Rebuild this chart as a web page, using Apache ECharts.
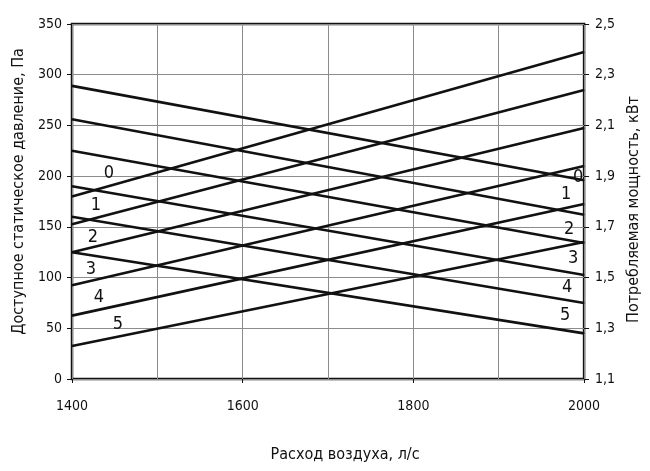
<!DOCTYPE html>
<html>
<head>
<meta charset="utf-8">
<script src="https://cdn.jsdelivr.net/npm/echarts@6/dist/echarts.min.js"></script>
<style>
  html, body { margin: 0; padding: 0; background: #fff; }
  #chart { width: 650px; height: 471px; }
</style>
</head>
<body>
<div id="chart"></div>
<script>
// Air flow, l/s (curve end points)
const flow = [1400, 2000];
const curveNames = ['0', '1', '2', '3', '4', '5'];

// Available static pressure, Pa, at 1400 and 2000 l/s
const pressureAt1400 = [289, 256, 225, 190, 160, 125];
const pressureAt2000 = [196, 162, 134, 102.5, 75, 45];

// Absorbed power, kW, at 1400 and 2000 l/s
const powerAt1400 = [1.82, 1.71, 1.60, 1.47, 1.35, 1.23];
const powerAt2000 = [2.39, 2.24, 2.09, 1.94, 1.79, 1.64];

// Axis scales
const flowAxis = { min: 1400, max: 2000, step: 200 };
const pressureAxis = { min: 0, max: 350, step: 50 };
const powerAxis = { min: 1.1, max: 2.5, step: 0.2 };

// Curve-number label placement (pixel offsets from the curve end they belong to)
const pressureLabelOffsets = [[-6, -3], [-18, -20], [-15, -14], [-11, -17], [-17, -16], [-19, -18]];
const powerLabelOffsets = [[37, -23], [24, -19], [21, -15], [19, -16], [27, -18], [46, -22]];

const FONT = "'Liberation Sans Narrow', 'DejaVu Sans Condensed', 'Arial Narrow', sans-serif";
const INK = '#111';
const GRID = '#8c8c8c';

function curveLabel(text, offset) {
  return {
    show: true,
    formatter: text,
    position: 'inside',
    offset: offset,
    fontFamily: FONT,
    fontSize: 18,
    color: INK
  };
}

const lineStyle = { color: INK, width: 2.6 };
const series = [];

curveNames.forEach((name, i) => {
  series.push({
    name: 'p' + name,
    type: 'line',
    yAxisIndex: 0,
    symbol: 'circle',
    symbolSize: 1,
    itemStyle: { color: INK },
    lineStyle: lineStyle,
    silent: true,
    data: [
      [flow[0], pressureAt1400[i]],
      { value: [flow[1], pressureAt2000[i]], label: curveLabel(name, pressureLabelOffsets[i]) }
    ]
  });
  series.push({
    name: 'n' + name,
    type: 'line',
    yAxisIndex: 1,
    symbol: 'circle',
    symbolSize: 1,
    itemStyle: { color: INK },
    lineStyle: lineStyle,
    silent: true,
    data: [
      { value: [flow[0], powerAt1400[i]], label: curveLabel(name, powerLabelOffsets[i]) },
      [flow[1], powerAt2000[i]]
    ]
  });
});

const tickFont = { fontFamily: FONT, fontSize: 14, color: INK };
const nameFont = { fontFamily: FONT, fontSize: 16, color: INK };

const option = {
  animation: false,
  backgroundColor: '#fff',
  grid: {
    left: 72, right: 62, top: 24, bottom: 92,
    show: true, borderColor: INK, borderWidth: 2.5, backgroundColor: 'transparent'
  },
  xAxis: {
    type: 'value',
    min: flowAxis.min, max: flowAxis.max, interval: flowAxis.step,
    name: 'Расход воздуха, л/с',
    nameLocation: 'middle',
    nameGap: 68,
    nameTextStyle: Object.assign({ padding: [0, 0, 0, 34] }, nameFont),
    axisLine: { show: false },
    axisTick: { show: true, length: 4, lineStyle: { color: INK, width: 1 } },
    axisLabel: Object.assign({ margin: 20, formatter: v => String(v) }, tickFont),
    splitLine: { show: true, lineStyle: { color: GRID, width: 1 } },
    minorTick: { show: false, splitNumber: 2 },
    minorSplitLine: { show: true, lineStyle: { color: GRID, width: 1 } }
  },
  yAxis: [
    {
      type: 'value',
      position: 'left',
      min: pressureAxis.min, max: pressureAxis.max, interval: pressureAxis.step,
      name: 'Доступное статическое давление, Па',
      nameLocation: 'middle',
      nameGap: 45,
      nameTextStyle: Object.assign({ padding: [0, 0, 0, 20] }, nameFont),
      axisLine: { show: false },
      axisTick: { show: true, length: 5, lineStyle: { color: INK, width: 1 } },
      axisLabel: Object.assign({ margin: 10 }, tickFont),
      splitLine: { show: true, lineStyle: { color: GRID, width: 1 } }
    },
    {
      type: 'value',
      position: 'right',
      min: powerAxis.min, max: powerAxis.max, interval: powerAxis.step,
      name: 'Потребляемая мощность, кВт',
      nameLocation: 'middle',
      nameGap: 38,
      nameTextStyle: Object.assign({ padding: [0, 16, 0, 0] }, nameFont),
      axisLine: { show: false },
      axisTick: { show: true, length: 5, lineStyle: { color: INK, width: 1 } },
      axisLabel: Object.assign({
        margin: 11,
        formatter: v => v.toFixed(1).replace('.', ',')
      }, tickFont),
      splitLine: { show: false }
    }
  ],
  series: series
};

const chart = echarts.init(document.getElementById('chart'), null, { renderer: 'canvas' });
chart.setOption(option);
</script>
</body>
</html>
